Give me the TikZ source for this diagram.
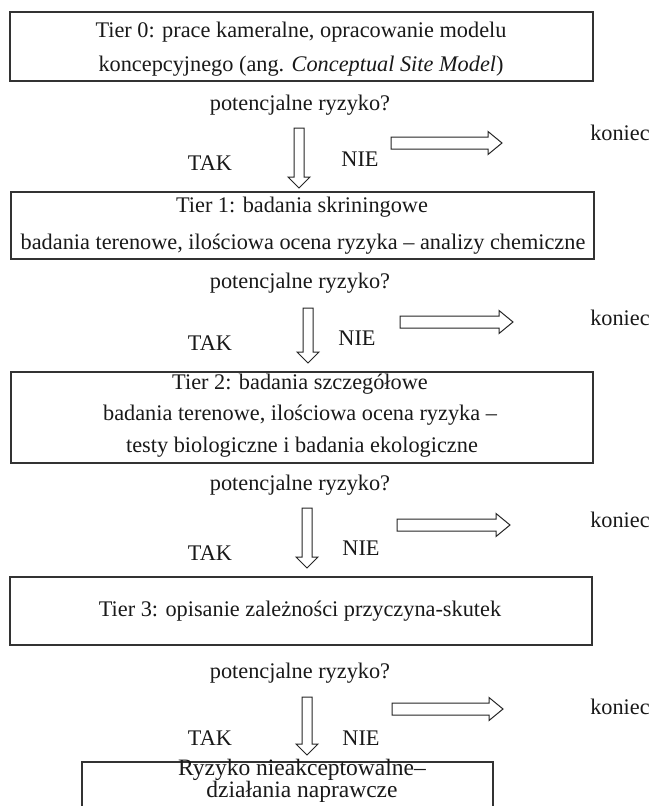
\documentclass[tikz,border=0pt]{standalone}
\usepackage{fontspec}
\setmainfont{Liberation Serif}
\usetikzlibrary{calc}

% block arrow pointing down: #1 tail point, #2 tip point
\newcommand{\vblock}[2]{%
  \draw[blockarrow] ($(#1)+(-5,0)$) -- ($(#1)+(5,0)$) -- ($(#2)+(5,-11)$)
    -- ($(#2)+(11,-11)$) -- (#2) -- ($(#2)+(-11,-11)$) -- ($(#2)+(-5,-11)$) -- cycle;}
% block arrow pointing right: #1 tail point, #2 tip point
\newcommand{\hblock}[2]{%
  \draw[blockarrow] ($(#1)+(0,-6)$) -- ($(#2)+(-14,-6)$) -- ($(#2)+(-14,-11.5)$)
    -- (#2) -- ($(#2)+(-14,11.5)$) -- ($(#2)+(-14,6)$) -- ($(#1)+(0,6)$) -- cycle;}

\begin{document}
\begin{tikzpicture}[x=1pt,y=-1pt,
  every node/.style={inner sep=0pt, outer sep=0pt},
  txt/.style={font=\fontsize{22.3}{27}\selectfont, text=black!90},
  box/.style={draw=black!80, line width=1.6pt, anchor=north west},
  blockarrow/.style={draw=black!85, line width=1pt, fill=white, line join=miter},
]
\useasboundingbox[fill=white] (0,0) rectangle (658,806);

% ---- boxes ----
\node[box, minimum width=583pt, minimum height=69pt] (t0) at (10,12) {};
\node[box, minimum width=583pt, minimum height=67pt] (t1) at (11,192) {};
\node[box, minimum width=582pt, minimum height=91pt] (t2) at (11,372) {};
\node[box, minimum width=582pt, minimum height=68pt] (t3) at (10,577) {};
\node[box, minimum width=411pt, minimum height=60pt] (t4) at (82,762) {};

% ---- box texts ----
\node[txt] (t0a) at (301,32) {Tier 0: prace kameralne, opracowanie modelu};
\node[txt] (t0b) at (301,66) {koncepcyjnego (ang. \textit{Conceptual Site Model})};
\node[txt] (t1a) at (302,207) {Tier 1: badania skriningowe};
\node[txt] (t1b) at (303,244) {badania terenowe, ilościowa ocena ryzyka – analizy chemiczne};
\node[txt] (t2a) at (300,384) {Tier 2: badania szczegółowe};
\node[txt] (t2b) at (300,415) {badania terenowe, ilościowa ocena ryzyka –};
\node[txt] (t2c) at (302,447) {testy biologiczne i badania ekologiczne};
\node[txt] (t3a) at (300,611) {Tier 3: opisanie zależności przyczyna-skutek};
\node[txt, font=\fontsize{23.5}{20.5}\selectfont, align=center, anchor=north]
  (t4a) at (302,759) {Ryzyko nieakceptowalne–\\działania naprawcze};

% ---- decision labels ----
\node[txt] (q0) at (300,105) {potencjalne ryzyko?};
\node[txt] (q1) at (300,283) {potencjalne ryzyko?};
\node[txt] (q2) at (300,485) {potencjalne ryzyko?};
\node[txt] (q3) at (300,673) {potencjalne ryzyko?};

\node[txt] (tak0) at (210,163) {TAK};
\node[txt] (tak1) at (210,343) {TAK};
\node[txt] (tak2) at (210,553) {TAK};
\node[txt] (tak3) at (210,738) {TAK};

\node[txt] (nie0) at (360,159) {NIE};
\node[txt] (nie1) at (357,338) {NIE};
\node[txt] (nie2) at (361,548) {NIE};
\node[txt] (nie3) at (361,738) {NIE};

\node[txt] (k0) at (620,133) {koniec};
\node[txt] (k1) at (620,318) {koniec};
\node[txt] (k2) at (620,520) {koniec};
\node[txt] (k3) at (620,707) {koniec};

% ---- arrow end points ----
\coordinate (d0s) at (299,128); \coordinate (d0e) at (299,188);
\coordinate (d1s) at (308,308); \coordinate (d1e) at (308,363);
\coordinate (d2s) at (307,508); \coordinate (d2e) at (307,568);
\coordinate (d3s) at (307,697); \coordinate (d3e) at (307,755);

\coordinate (r0s) at (391,143); \coordinate (r0e) at (502,143);
\coordinate (r1s) at (400,322); \coordinate (r1e) at (513,322);
\coordinate (r2s) at (397,525); \coordinate (r2e) at (510,525);
\coordinate (r3s) at (392,709); \coordinate (r3e) at (503,709);

% ---- block arrows ----
\vblock{d0s}{d0e} \vblock{d1s}{d1e} \vblock{d2s}{d2e} \vblock{d3s}{d3e}
\hblock{r0s}{r0e} \hblock{r1s}{r1e} \hblock{r2s}{r2e} \hblock{r3s}{r3e}
\end{tikzpicture}
\end{document}
